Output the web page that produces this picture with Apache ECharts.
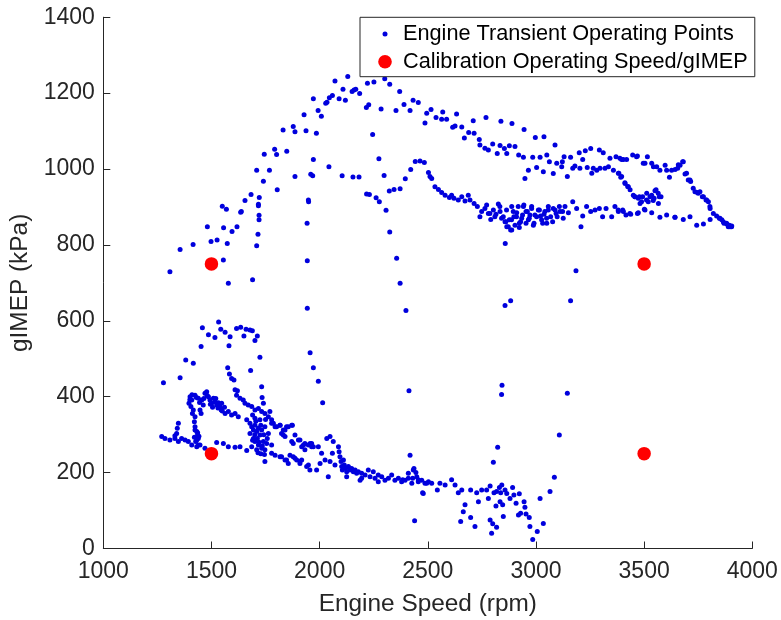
<!DOCTYPE html>
<html>
<head>
<meta charset="utf-8">
<script src="https://cdn.jsdelivr.net/npm/echarts@6/dist/echarts.min.js"></script>
<style>html,body{margin:0;padding:0;background:#fff;}#chart{width:781px;height:620px;}</style>
</head>
<body>
<div id="chart"></div>
<script>
// ---- Data (Engine speed [rpm], gIMEP [kPa]) ----
var xTicks = [1000, 1500, 2000, 2500, 3000, 3500, 4000];
var yTicks = [0, 200, 400, 600, 800, 1000, 1200, 1400];

var highLoadRise = [[1308,729],[1355,788],[1415,801],[1481,848],[1498,809],[1526,813],[1555,760],[1550,902],[1569,894],[1556,845],[1573,804],[1578,699],[1595,835],[1618,848],[1635,886],[1638,888],[1655,917],[1683,933],[1690,708],[1709,798],[1715,828],[1720,866],[1720,878],[1717,903],[1717,907],[1721,925],[1709,997],[1740,968],[1744,1039],[1768,997],[1792,1052],[1801,1038],[1804,945],[1831,1103],[1848,1047],[1878,1112],[1886,1098],[1886,980],[1928,1143],[1937,1101],[1942,857],[1943,758],[1943,633],[1948,918],[1949,914],[1959,986],[1968,982],[1971,1185],[1971,1025],[1985,1094],[1993,1154],[2008,1139],[2028,1173],[2034,1176],[2045,1188],[2043,1006],[2059,1194],[2071,1232],[2090,1185],[2104,982],[2108,1210],[2119,1181],[2130,1244],[2150,1204],[2159,1208],[2167,1210],[2154,979],[2182,979],[2185,1199],[2216,1162],[2227,1169],[2217,934],[2230,933],[2221,1226],[2245,1091],[2251,1229],[2261,924],[2274,1027],[2276,914],[2284,1158],[2298,983],[2301,1238],[2307,891],[2322,942],[2324,1223],[2324,834],[2344,946],[2353,1154],[2356,765],[2370,1204],[2372,948],[2372,699],[2390,1170],[2396,974],[2399,627],[2418,1154],[2421,999],[2432,1181],[2442,1020],[2456,1175],[2464,1021],[2484,1017],[2487,1121],[2495,1147],[2503,991],[2510,980]];

var highLoadUpper = [[2515,1157],[2538,1136],[2564,1131],[2569,1150],[2587,1131],[2615,1110],[2633,1145],[2626,1113],[2657,1111],[2669,1082],[2689,1096],[2710,1127],[2714,1094],[2738,1078],[2741,1063],[2764,1055],[2769,1136],[2780,1050],[2800,1066],[2821,1041],[2834,1062],[2838,1126],[2854,1054],[2865,1041],[2877,1061],[2889,1120],[2903,1059],[2920,1037],[2942,1031],[2945,1104],[2949,975],[2965,997],[2985,1031],[2997,1083],[3003,1004],[3019,1031],[3034,993],[3037,1085],[3050,1037],[3062,1019],[3080,988],[3088,1063],[3096,1015],[3119,1006],[3122,1019],[3130,1032],[3145,980],[3160,1031],[3170,1002],[3180,1008],[3203,1002],[3200,1043],[3216,1025],[3228,1048],[3237,1004],[3253,1054],[3258,989],[3265,1002],[3281,997],[3293,1050],[3296,1002],[3311,1043],[3319,1002],[3335,1006],[3342,1028],[3358,997],[3370,1032],[3381,989],[3392,978],[3396,1025],[3412,962],[3419,1025],[3427,953],[3435,945],[3447,1037],[3450,931],[3458,927],[3469,1034],[3478,927],[3481,909],[3493,927],[3504,1015],[3512,936],[3515,1032],[3519,914],[3527,927],[3543,1006],[3546,923],[3555,945],[3566,909],[3570,927],[3573,997],[3597,1010],[3604,997],[3617,978],[3627,997],[3643,999],[3655,1002],[3666,1010],[3678,1019],[3689,987],[3704,971],[3715,967],[3727,949],[3735,940],[3746,938],[3758,940],[3774,927],[3786,918],[3797,914],[3805,896],[3820,883],[3835,876],[3848,870],[3859,866],[3869,857],[3882,855],[3894,852],[3905,850],[3897,848],[3388,1028],[3404,1025],[3465,1032],[3496,1015],[3535,1015],[3558,1006],[3383,989],[3396,980],[3411,964],[3424,954],[3457,927],[3473,923],[3488,914],[3511,918],[3535,931],[3542,917],[3550,943],[3565,936],[3578,927],[3681,1019],[3658,1011],[3696,989],[3712,971],[3750,936],[3769,927],[3789,918],[3804,901],[3850,870],[3866,861],[3881,857],[3889,848],[3904,848]];

var highLoadLower = [[2518,975],[2533,953],[2549,946],[2564,938],[2580,931],[2600,925],[2610,931],[2621,923],[2641,918],[2657,927],[2672,916],[2687,931],[2695,918],[2714,909],[2729,901],[2741,874],[2749,888],[2764,896],[2780,883],[2791,867],[2803,892],[2815,881],[2826,908],[2834,888],[2849,874],[2861,861],[2865,848],[2877,866],[2888,839],[2888,901],[2898,874],[2911,885],[2923,857],[2934,870],[2942,901],[2954,888],[2965,866],[2972,879],[2980,901],[2991,857],[3003,874],[3016,892],[3026,866],[3037,881],[3050,857],[3057,892],[3068,874],[3080,896],[3093,883],[3108,901],[3123,888],[3134,901],[3150,885],[3170,914],[3188,896],[3208,848],[3216,876],[3234,901],[3253,888],[3273,892],[3293,896],[3308,874],[3324,896],[3350,874],[3365,901],[3381,888],[3401,892],[3416,879],[3438,881],[3469,883],[3501,894],[3535,885],[3573,873],[3604,879],[3643,873],[3681,867],[3712,874],[3743,852],[3774,855],[3805,867],[2772,905],[2787,883],[2810,874],[2833,901],[2841,870],[2857,861],[2864,892],[2872,848],[2883,839],[2887,866],[2895,888],[2903,852],[2910,874],[2918,901],[2923,846],[2929,861],[2938,879],[2944,905],[2954,857],[2960,888],[2969,870],[2980,896],[2988,852],[2995,879],[3011,892],[3021,876],[3031,857],[3041,888],[3049,870],[3057,901],[3077,861],[3088,892],[3098,874],[3111,888],[3126,870],[3380,892],[3404,888],[3434,883],[3473,885],[3504,892],[3642,873]];

var lowLoadCluster = [[1278,437],[1355,450],[1381,497],[1416,488],[1452,532],[1458,582],[1486,563],[1516,556],[1533,597],[1543,578],[1563,570],[1581,534],[1586,558],[1616,580],[1635,583],[1650,560],[1660,578],[1678,576],[1689,574],[1701,548],[1712,560],[1724,504],[1681,469],[1575,476],[1583,460],[1593,448],[1604,444],[1620,416],[1732,426],[1734,398],[1609,418],[1401,400],[1409,391],[1396,383],[1405,374],[1416,365],[1412,356],[1424,347],[1421,334],[1424,321],[1432,308],[1436,299],[1439,290],[1427,282],[1439,273],[1424,404],[1439,396],[1455,391],[1470,409],[1478,413],[1486,400],[1493,391],[1501,383],[1509,396],[1516,387],[1524,378],[1532,384],[1539,374],[1547,383],[1462,378],[1447,365],[1452,356],[1563,356],[1578,361],[1593,352],[1609,356],[1624,347],[1616,404],[1632,396],[1647,391],[1655,383],[1670,378],[1686,374],[1701,365],[1717,369],[1732,361],[1740,383],[1747,356],[1763,347],[1770,361],[1778,339],[1663,339],[1678,330],[1686,321],[1694,312],[1701,325],[1709,308],[1717,317],[1724,299],[1732,312],[1678,303],[1694,290],[1701,282],[1717,273],[1732,264],[1747,260],[1709,260],[1686,268],[1740,282],[1755,277],[1724,339],[1747,321],[1763,303],[1701,343],[1786,330],[1801,321],[1817,325],[1832,312],[1847,321],[1871,325],[1824,303],[1840,295],[1886,299],[1909,286],[1871,282],[1925,273],[1956,277],[1778,273],[1794,246],[1824,242],[1847,233],[1863,246],[1886,238],[1909,229],[1932,260],[1948,220],[1963,268],[1747,229],[1270,295],[1285,290],[1308,286],[1331,290],[1339,303],[1347,282],[1347,330],[1362,290],[1378,286],[1393,282],[1409,273],[1432,268],[1447,273],[1470,264],[1524,279],[1555,277],[1578,268],[1609,267],[1632,268],[1663,258],[1424,312],[1436,305],[1442,296],[1421,293],[1432,286],[1342,317],[1331,297],[1400,392],[1410,405],[1430,398],[1445,385],[1465,395],[1480,403],[1495,380],[1505,372],[1520,395],[1530,370],[1545,365],[1560,372],[1550,362],[1690,352],[1705,335],[1712,290],[1720,280],[1728,325],[1735,270],[1742,300],[1750,340],[1758,290],[1700,300],[1690,285],[1715,252],[1728,250],[1745,248]];

var lowLoadBand = [[1778,330],[1794,321],[1817,325],[1840,312],[1855,321],[1874,325],[1832,299],[1878,277],[1902,286],[1917,268],[1932,277],[1948,273],[1963,277],[1971,268],[1994,268],[2033,290],[2048,295],[2063,282],[2009,251],[2025,233],[2048,229],[2059,251],[2071,220],[2040,189],[1778,251],[1817,242],[1840,233],[1855,224],[1878,242],[1894,233],[1909,224],[1917,233],[1940,216],[1955,207],[1986,207],[2002,224],[2087,268],[2090,255],[2094,242],[2099,229],[2102,216],[2105,207],[2110,233],[2114,220],[2120,211],[2125,202],[2133,216],[2140,207],[2148,211],[2156,202],[2164,207],[2171,198],[2179,202],[2194,198],[2210,194],[2225,207],[2233,189],[2248,202],[2256,185],[2271,194],[2287,189],[2302,180],[2318,185],[2333,194],[2348,180],[2364,185],[2379,176],[2395,180],[2410,185],[2418,246],[2426,172],[2433,207],[2449,189],[2456,176],[2472,180],[2479,145],[2487,172],[2503,176],[2518,172],[2187,180],[2271,176],[2125,189],[2194,185],[2384,181],[2410,198],[2430,185],[2436,211],[2445,200],[2439,73],[2456,181],[2476,147],[2495,172],[2544,154],[2556,172],[2580,167],[2610,181],[2626,167],[2641,147],[2657,154],[2672,115],[2664,97],[2652,71],[2698,82],[2698,154],[2718,58],[2726,147],[2734,123],[2749,154],[2772,154],[2780,132],[2788,165],[2788,75],[2795,40],[2800,65],[2803,227],[2818,56],[2815,112],[2823,267],[2818,150],[2831,161],[2834,123],[2837,147],[2842,167],[2846,115],[2849,84],[2857,154],[2865,145],[2880,132],[2892,161],[2898,141],[2908,119],[2919,88],[2923,144],[2929,93],[2945,123],[2949,109],[2954,91],[2969,82],[2972,58],[2985,24],[3006,45],[3019,132],[3034,66],[3065,150],[3085,188],[3108,299],[2806,147]];

var sparseTransients = [[1956,516],[1971,476],[1994,441],[2014,384],[2413,416],[2858,804],[3185,732],[2883,653],[2857,640],[3160,653],[2843,430],[2841,406],[3145,409]];

var calibSpeed = [1500, 1500, 3500, 3500];
var calibImep = [750, 250, 750, 250];

var transientName = 'Engine Transient Operating Points';
var calibName = 'Calibration Operating Speed/gIMEP';

// ---- Build series data ----
var transientData = [].concat(highLoadRise, highLoadUpper, highLoadLower, lowLoadCluster, lowLoadBand, sparseTransients);
var calibData = calibSpeed.map(function (s, i) { return [s, calibImep[i]]; });

var blue = '#0000dd';
var red = '#ff0000';

function dotIcon(r, color) {
  var svg = '<svg xmlns="http://www.w3.org/2000/svg" width="26" height="22" viewBox="0 0 26 22">' +
    '<circle cx="13" cy="11" r="' + r + '" fill="' + color + '"/></svg>';
  return 'image://data:image/svg+xml;charset=utf-8,' + encodeURIComponent(svg);
}

var textColor = '#262626';
var font = '"Liberation Sans", Arial, Helvetica, sans-serif';

var chart = echarts.init(document.getElementById('chart'), null, { renderer: 'canvas' });
chart.setOption({
  animation: false,
  backgroundColor: '#ffffff',
  textStyle: { fontFamily: font, color: textColor },
  grid: { left: 103.3, right: 28.7, top: 17.2, bottom: 71.5, containLabel: false, outerBoundsMode: 'none' },
  legend: {
    orient: 'vertical',
    left: 360,
    top: 17.3,
    padding: [5.7, 7, 4, 12],
    itemGap: 5.7,
    itemWidth: 26,
    itemHeight: 22,
    backgroundColor: '#ffffff',
    borderColor: textColor,
    borderWidth: 1,
    borderRadius: 0,
    selectedMode: false,
    textStyle: { fontSize: 21.7, lineHeight: 22, color: '#000000', fontFamily: font },
    data: [
      { name: transientName, icon: dotIcon(2.5, blue) },
      { name: calibName, icon: dotIcon(6.8, red) }
    ]
  },
  xAxis: {
    type: 'value',
    min: xTicks[0],
    max: xTicks[xTicks.length - 1],
    interval: xTicks[1] - xTicks[0],
    name: 'Engine Speed (rpm)',
    nameLocation: 'middle',
    nameGap: 44,
    nameTextStyle: { fontSize: 24.4, color: textColor, fontFamily: font },
    axisLine: { show: true, lineStyle: { color: textColor, width: 1 } },
    axisTick: { show: true, inside: true, length: 7, lineStyle: { color: textColor } },
    axisLabel: { fontSize: 23, color: textColor, margin: 12, fontFamily: font,
      formatter: function (v) { return String(v); } },
    splitLine: { show: false }
  },
  yAxis: {
    type: 'value',
    min: yTicks[0],
    max: yTicks[yTicks.length - 1],
    interval: yTicks[1] - yTicks[0],
    name: 'gIMEP (kPa)',
    nameLocation: 'middle',
    nameGap: 59,
    nameRotate: 90,
    nameTextStyle: { fontSize: 24.4, color: textColor, fontFamily: font },
    axisLine: { show: true, lineStyle: { color: textColor, width: 1 } },
    axisTick: { show: true, inside: true, length: 7, lineStyle: { color: textColor } },
    axisLabel: { fontSize: 23, color: textColor, margin: 8.5, fontFamily: font,
      formatter: function (v) { return String(v); } },
    splitLine: { show: false }
  },
  series: [
    {
      name: transientName,
      type: 'scatter',
      data: transientData,
      symbol: 'circle',
      symbolSize: 5,
      itemStyle: { color: blue, opacity: 1 },
      emphasis: { disabled: true },
      z: 2
    },
    {
      name: calibName,
      type: 'scatter',
      data: calibData,
      symbol: 'circle',
      symbolSize: 13.5,
      itemStyle: { color: red, opacity: 1 },
      emphasis: { disabled: true },
      z: 3
    }
  ]
});
</script>
</body>
</html>
